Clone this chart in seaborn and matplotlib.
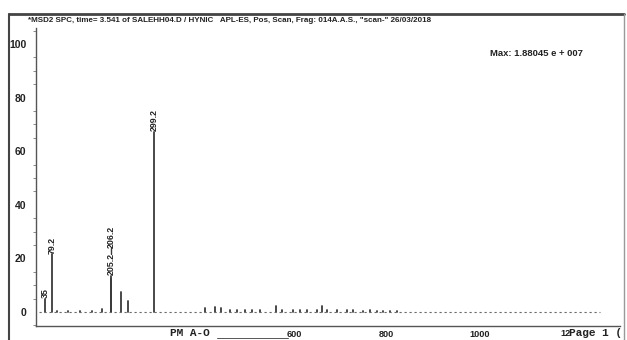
import matplotlib
matplotlib.use("Agg")
import matplotlib.pyplot as plt
from matplotlib.lines import Line2D
from matplotlib.ticker import MultipleLocator, FixedLocator
import numpy as np
import pandas as pd
import seaborn as sns

# ---- spectrum data ----
peak_mz = [63.0, 79.2, 89.0, 113.0, 139.0, 164.0, 186.5, 205.2, 206.2, 226.0, 243.0,
           299.2, 408.0, 430.0, 443.0, 462.0, 477.0, 494.0, 509.0, 527.0, 561.0,
           574.0, 598.0, 613.0, 628.0, 650.0, 660.0, 671.0, 693.0, 714.0, 727.0,
           749.0, 764.0, 779.0, 792.0, 807.0, 822.0]
peak_intensity = [5.0, 21.5, 0.4, 0.3, 0.3, 0.4, 1.1, 13.4, 12.5, 7.4, 4.2,
                  67.3, 1.4, 1.9, 1.5, 0.8, 0.7, 0.8, 0.6, 0.7, 2.2,
                  0.8, 0.7, 0.6, 0.8, 0.6, 2.3, 0.7, 0.6, 0.6, 0.6,
                  0.5, 0.6, 0.5, 0.5, 0.5, 0.4]
peak_labels = ["35", "79.2", "", "", "", "", "", "205.2", "206.2", "", "",
               "299.2"] + [""] * 25
scan_range = [50, 1260]

y_ticks = [0, 20, 40, 60, 80, 100]
x_tick_labels = {600: "600", 800: "800", 1000: "1000"}

header = ('*MSD2 SPC, time= 3.541 of SALEHH04.D / HYNIC   APL-ES, Pos, Scan, '
          'Frag: 014A.A.S., "scan-" 26/03/2018')
max_text = "Max: 1.88045 e + 007"

# ---- figure ----
sns.set_theme(style="white")
plt.rcParams["font.family"] = ["Liberation Sans", "DejaVu Sans"]

W, H = 627, 340
fig = plt.figure(figsize=(W / 100, H / 100), dpi=100)
fig.patch.set_facecolor("white")
ax = fig.add_axes([36 / W, 1 - 326 / H, (620 - 36) / W, (326 - 28) / H])
ax.set_facecolor("white")

ink = "#3a3a3a"

# stick spectrum: each peak is a vertical segment from the baseline
sticks = pd.DataFrame({
    "mz": np.repeat(peak_mz, 2),
    "intensity": np.column_stack([np.zeros(len(peak_intensity)), peak_intensity]).ravel(),
    "peak": np.repeat(np.arange(len(peak_mz)), 2),
})
sns.lineplot(data=sticks, x="mz", y="intensity", units="peak", estimator=None,
             color=ink, lw=1.3, ax=ax, legend=False)

# dotted baseline across the scan range
ax.plot(scan_range, [0, 0], color="#6a6a6a", lw=0.8, ls=(0, (2, 2.5)))

ax.set_xlim(43.8, 1303)
ax.set_ylim(-5.22, 105.97)

# peak annotations, stacked when neighbouring labels collide
last_x, last_top = None, None
for mz, inten, lab in zip(peak_mz, peak_intensity, peak_labels):
    if not lab:
        continue
    if last_x is not None and abs(mz - last_x) < 5:
        y0 = last_top + 2.0
        ax.plot([mz, mz], [last_top, y0], color=ink, lw=1.0)
    else:
        y0 = inten + 0.3
    ax.text(mz, y0, lab, rotation=90, ha="center", va="bottom", fontsize=6.4,
            fontweight="bold", color="#222222")
    last_x, last_top = mz, y0 + 8.0

# axes styling
for side in ("top", "right"):
    ax.spines[side].set_visible(False)
for side in ("left", "bottom"):
    ax.spines[side].set_color("#555555")
    ax.spines[side].set_linewidth(1.0)

ax.yaxis.set_major_locator(FixedLocator(y_ticks))
ax.yaxis.set_minor_locator(MultipleLocator(5))
ax.set_yticklabels([str(t) for t in y_ticks])
ax.xaxis.set_major_locator(FixedLocator(list(range(50, 1301, 50))))
ax.set_xticklabels([x_tick_labels.get(t, "") for t in range(50, 1301, 50)])
ax.tick_params(axis="y", which="major", direction="out", length=5, width=0.8,
               color="#555555", labelsize=7.5, pad=2)
ax.tick_params(axis="y", which="minor", direction="out", length=2.5, width=0.6,
               color="#777777", left=True)
ax.tick_params(axis="x", which="major", direction="out", length=2.5, width=0.8,
               color="#555555", labelsize=6.6, pad=0.5)
for lbl in ax.get_xticklabels() + ax.get_yticklabels():
    lbl.set_fontweight("bold")
    lbl.set_color("#222222")
ax.set_xlabel("")
ax.set_ylabel("")

# header and maximum-intensity note
fig.text(28 / W, 1 - 20 / H, header, fontsize=5.8, fontweight="bold",
         color="#222222", va="center", ha="left")
fig.text(490 / W, 1 - 53 / H, max_text, fontsize=6.8, fontweight="bold",
         color="#222222", va="center", ha="left")

# printer footer over the x axis labels
fig.text(170 / W, 1 - 333 / H, "PM A-O", family="Liberation Mono", fontsize=8,
         fontweight="bold", color="#222222", va="center", ha="left")
fig.add_artist(Line2D([217 / W, 288 / W], [1 - 337.5 / H] * 2, transform=fig.transFigure,
                      color="#555555", lw=0.7))
fig.text(560 / W, 1 - 333 / H, "12", fontsize=6.6, fontweight="bold",
         color="#222222", va="center", ha="left")
fig.text(569 / W, 1 - 333 / H, "Page 1 (", family="Liberation Mono", fontsize=8,
         fontweight="bold", color="#222222", va="center", ha="left")

# page frame
frame = dict(transform=fig.transFigure, color="#444444")
fig.add_artist(Line2D([9 / W, 624 / W], [1 - 14 / H] * 2, lw=2.0, **frame))
fig.add_artist(Line2D([9 / W, 9 / W], [1 - 14 / H, 0], lw=1.5, **frame))
fig.add_artist(Line2D([624 / W, 624 / W], [1 - 14 / H, 0], lw=1.0,
                      transform=fig.transFigure, color="#999999"))

fig.savefig("out.png", dpi=100, facecolor="white")
